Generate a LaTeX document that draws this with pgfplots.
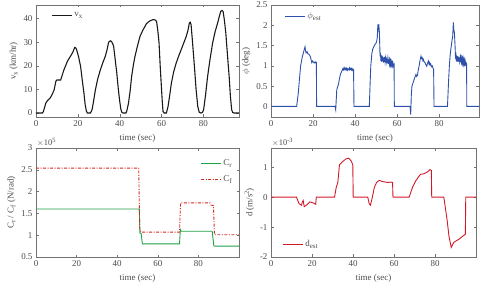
\documentclass[border=0pt]{standalone}
\usepackage{fontspec}
\setmainfont{Liberation Serif}
\usepackage{pgfplots}
\pgfplotsset{compat=1.18}
\newcommand{\sub}[1]{\raisebox{-0.45ex}{\fontsize{7}{8}\selectfont #1}}
\newcommand{\super}[1]{\raisebox{0.8ex}{\fontsize{6.5}{7}\selectfont #1}}
\definecolor{axgray}{gray}{0.45}
\definecolor{txtgray}{gray}{0.3}
\definecolor{phiblue}{RGB}{45,80,170}
\definecolor{crgreen}{RGB}{30,160,70}
\definecolor{cfred}{RGB}{215,40,30}
\definecolor{dred}{RGB}{210,25,40}
\pgfplotsset{
  myax/.style={
    scale only axis,
    anchor=south west,
    font=\fontsize{9}{10}\selectfont,
    /pgf/number format/assume math mode=true,
    axis line style={axgray, line width=0.5pt},
    tick style={axgray, line width=0.4pt},
    major tick length=2.5bp,
    tick align=inside,
    xtick pos=both, ytick pos=both,
    ticklabel style={txtgray, font=\fontsize{9}{10}\selectfont},
    label style={txtgray, font=\fontsize{9}{10}\selectfont},
    xlabel={time (sec)},
    xlabel style={yshift=-1bp},
    ylabel style={yshift=-1bp},
    xtick={0,20,40,60,80},
    xmin=0,
    legend cell align=left,
    legend style={draw=none, fill=none, font=\fontsize{9}{10}\selectfont, text=txtgray, row sep=2bp},
    legend image code/.code={\draw[#1] (0bp,0bp) -- (20bp,0bp);},
  }
}
\begin{document}
\begin{tikzpicture}
\useasboundingbox (0,0) rectangle (485bp,286bp);
% ---------- top-left: v_x
\begin{axis}[myax, at={(36bp,169bp)}, width=203bp, height=112bp,
  xmax=97, ymin=-1.7, ymax=45.8, ytick={0,10,20,30,40},
  ylabel={v\sub{x} (km/hr)},
  legend style={at={(0.06,0.97)}, anchor=north west}]
\addplot[black!90, line width=1.1pt] coordinates {
(0,0)(3,0)(3.5,0.5)(4.7,4.2)(5.5,5.3)(6.8,6.4)(7.8,8)(8.7,9.9)(9.5,13.5)(10,14)(11.8,14)(12.5,16)(13.4,18.4)(15,21.9)(16.9,24.7)(17.7,26)(18.5,27.8)(19,27.6)(19.4,26.9)(20.3,24)(21.3,19.8)(22.1,14)(22.9,8.5)(23.5,3.5)(24.1,0.7)(24.6,0)(26,0)(26.8,1.4)(27.5,5)(28.4,9.9)(29.5,14.5)(30.8,18.4)(32,21.5)(33.1,24)(34,27)(34.7,30)(35.5,30.6)(36,30.4)(36.6,29.5)(37.1,28.3)(37.8,23)(38.6,17)(39.3,10.5)(39.9,5.7)(40.5,1.8)(41,0.3)(41.5,0)(43,0)(43.5,1.2)(44.2,4.2)(45,9.5)(45.7,15.5)(46.5,20.2)(47.3,24)(48.5,28.5)(49.7,32.5)(51,35)(52.8,37.9)(54.3,39)(55.9,39.6)(56.8,39.5)(57.6,38.9)(58.2,35)(58.8,29.7)(59.4,19)(60,9.9)(60.4,4)(60.7,0.7)(61.2,0)(62.3,0)(63.1,2.8)(63.9,7.5)(64.7,12.7)(65.8,17.5)(67,21.2)(68.2,24.2)(69.4,26.9)(70.6,29.7)(71.8,32.5)(72.6,35)(73.3,38.2)(73.7,38.5)(74.1,37.5)(74.8,30)(75.7,19.8)(76.5,10)(77.3,2.8)(78,0.3)(78.9,0)(79.5,0.2)(80.1,1.4)(81,7.5)(82,15.5)(83.2,23)(84.4,29.7)(85.6,34.5)(86.8,38.2)(87.6,41)(88.3,43.1)(88.9,43.5)(89.4,43.1)(90,39.5)(90.7,33.9)(91.5,24.5)(92.3,15.5)(92.9,7)(93.5,1.4)(94,0.2)(94.6,0)(97,0)
};
\addlegendentry{v\sub{x}}
\end{axis}
% ---------- top-right: phi
\begin{axis}[myax, at={(271bp,169bp)}, width=208bp, height=112bp,
  xmax=99, ymin=-0.26, ymax=2.5, ytick={0,0.5,1,1.5,2,2.5},
  yticklabel style={/pgf/number format/fixed},
  ylabel={$\phi$ (deg)},
  legend style={at={(0.05,0.97)}, anchor=north west}]
\addplot[phiblue, line width=0.9pt] coordinates {
(0,0)(12.2,0)(13,0.33)(13.5,0.65)(14.1,1.0)(14.8,1.2)(15.4,1.32)(16.2,1.47)(16.5,1.36)(16.7,1.32)(17.2,1.35)(17.5,1.3)(17.8,1.29)(18.3,1.27)(18.6,1.24)(18.9,1.2)(19.2,1.12)(19.4,1.08)(19.8,1.12)(20.2,1.09)(20.6,1.07)(21,1.1)(21.4,1.07)(21.6,1.08)(21.7,0)
(30.5,0)(30.8,-0.08)(31.3,0.41)(31.7,0.48)(32.1,0.54)(32.5,0.66)(33.1,0.8)(33.7,0.87)(34.2,0.93)(34.5,0.9)(34.8,0.96)(35.1,0.91)(35.4,0.94)(35.7,0.9)(36,0.94)(36.3,0.89)(36.6,0.93)(37.1,0.9)(37.4,0.95)(37.6,0.91)(38,0.94)(38.2,0.9)(38.5,0.93)(38.7,0.89)(39,0.92)(39.3,0.91)(39.5,0)
(46.8,0)(47.2,0.6)(47.5,1.0)(48,1.3)(48.4,1.41)(49,1.48)(49.5,1.53)(50,1.56)(50.3,1.61)(50.6,1.7)(50.8,1.95)(51,1.9)(51.3,2.03)(51.6,1.82)(51.9,1.24)(52.1,1.32)(52.3,1.12)(52.5,1.26)(52.7,1.1)(52.9,1.25)(53.1,1.12)(53.3,1.22)(53.5,1.08)(53.7,1.2)(53.9,1.1)(54.1,1.22)(54.3,1.1)(54.5,1.19)(54.7,1.08)(54.9,1.2)(55.1,1.1)(55.3,1.18)(55.5,1.06)(55.7,1.16)(55.9,1.05)(56.1,1.15)(56.3,1.05)(56.5,1.13)(56.7,1.04)(56.9,1.12)(57.1,1.03)(57.3,1.1)(57.5,1.02)(57.7,1.08)(57.9,1.0)(58.1,1.06)(58.3,1.0)(58.6,1.03)(58.7,0)
(66.2,0)(66.5,-0.2)(66.8,0.3)(67.1,0.5)(67.6,0.58)(68.1,0.66)(68.5,0.72)(69,0.79)(69.3,0.74)(69.7,0.76)(70.1,0.9)(70.6,1.03)(71,1.15)(71.4,1.24)(71.7,1.18)(72,1.2)(72.3,1.13)(72.5,1.16)(72.9,1.1)(73.3,1.08)(73.7,1.03)(74.1,0.99)(74.5,1.06)(74.9,1.12)(75.2,1.05)(75.4,1.08)(75.7,1.02)(76,1.05)(76.4,0.98)(76.8,1.0)(77.1,0.94)(77.4,0.92)(77.6,0)
(84,0)(84.5,0.6)(84.9,1.0)(85.3,1.28)(85.7,1.45)(86.1,1.6)(86.5,1.74)(86.7,1.95)(86.8,2.07)(87,1.9)(87.3,1.82)(87.6,1.5)(87.8,1.24)(88,1.28)(88.2,1.12)(88.4,1.26)(88.6,1.1)(88.8,1.24)(89,1.12)(89.2,1.22)(89.4,1.1)(89.6,1.21)(89.8,1.11)(90,1.2)(90.2,1.09)(90.4,1.19)(90.6,1.1)(90.8,1.18)(91,1.08)(91.2,1.17)(91.4,1.07)(91.6,1.16)(91.8,1.06)(92,1.14)(92.2,1.05)(92.4,1.12)(92.6,1.04)(92.8,1.08)(93.1,1.05)(93.2,0)
(99,0)
};
\addlegendentry{$\phi$\sub{est}}
\end{axis}
% ---------- bottom-left: C_r / C_f
\begin{axis}[myax, at={(36bp,29bp)}, width=203bp, height=109bp,
  xmax=100, ymin=0.5, ymax=3, ytick={0.5,1,1.5,2,2.5,3},
  yticklabel style={/pgf/number format/fixed},
  ylabel={C\sub{r} / C\sub{f} (N/rad)},
  legend style={at={(0.99,0.93)}, anchor=north east, row sep=4bp},
  extra description/.code={\node[anchor=south west, font=\fontsize{8.5}{9}\selectfont, text=txtgray, inner sep=1bp] at (rel axis cs:0,1) {$\times$10\super{5}};}]
\addplot[crgreen, line width=0.9pt] coordinates {
(0,1.6)(50.9,1.6)(51.2,1.05)(51.8,1.04)(52.4,0.8)(70.7,0.8)(71.1,1.13)(71.5,1.09)(86.8,1.09)(87.6,0.76)(88,0.75)(100,0.75)
};
\addlegendentry{C\sub{r}}
\addplot[cfred, line width=0.9pt, dash pattern=on 3bp off 1.5bp on 1bp off 1.5bp] coordinates {
(0,2.54)(50.6,2.54)(51.1,1.12)(51.8,1.08)(52.3,1.07)(70.7,1.07)(71.2,1.74)(85.7,1.74)(86.2,1.69)(87.4,1.68)(87.9,1.01)(100,1.01)
};
\addlegendentry{C\sub{f}}
\end{axis}
% ---------- bottom-right: d_est
\begin{axis}[myax, at={(271bp,29bp)}, width=205bp, height=109bp,
  xmax=100, ymin=-2, ymax=1.64, ytick={-2,-1,0,1},
  ylabel={d (m/s\super{2})},
  legend style={at={(0.04,0.04)}, anchor=south west},
  extra description/.code={\node[anchor=south west, font=\fontsize{8.5}{9}\selectfont, text=txtgray, inner sep=1bp] at (rel axis cs:0,1) {$\times$10\super{-3}};}]
\addplot[dred, line width=0.9pt] coordinates {
(0,0)(12.4,0)(13.7,-0.22)(14.9,-0.27)(15.3,-0.16)(15.7,-0.11)(16.2,-0.32)(17.3,-0.27)(18.9,-0.16)(20.5,-0.19)(21.8,-0.24)(22.1,0)
(31,0)(31.8,0.32)(32.6,0.49)(33.4,1.08)(35,1.19)(36.7,1.28)(37.9,1.3)(39.1,1.21)(39.9,1.08)(40.1,0)
(47.2,0)(47.9,-0.22)(48.5,-0.27)(49.3,-0.05)(50.4,0.32)(51.5,0.49)(52.8,0.56)(54.4,0.52)(56.9,0.49)(58.5,0.5)(59.3,0.49)(59.5,0)
(67.4,0)(69,0.32)(70.6,0.54)(71.4,0.62)(72.2,0.7)(73,0.76)(74.6,0.78)(76.3,0.84)(77.5,0.92)(78.2,0.89)(78.4,0)
(84.3,0)(85.9,-0.76)(86.8,-1.3)(87.9,-1.68)(89.2,-1.51)(91.6,-1.41)(94,-1.28)(94.8,-1.24)(95,0)(100,0)
};
\addlegendentry{d\sub{est}}
\end{axis}
\end{tikzpicture}
\end{document}
